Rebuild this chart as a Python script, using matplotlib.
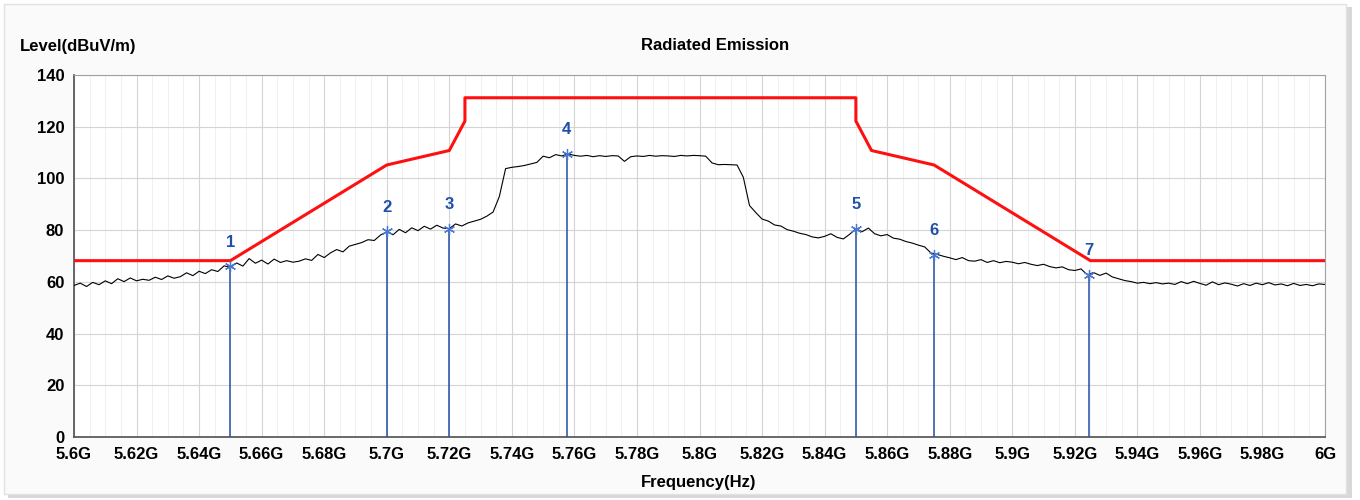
"""Radiated emission scan, 5.6-6 GHz, with limit mask and markers."""
import matplotlib
matplotlib.use("Agg")
import matplotlib.pyplot as plt
from matplotlib.patches import Rectangle
from matplotlib.ticker import MultipleLocator, FuncFormatter

# measured trace, 2 MHz steps from 5.600 GHz to 6.000 GHz (dBuV/m)
f_start, f_step = 5.6, 0.002
level = [
    58.6, 59.5, 58.2, 59.8, 58.9, 60.4, 59.3, 61.2, 60.1, 61.5,
    60.4, 61.0, 60.6, 61.8, 60.9, 62.3, 61.4, 62.0, 63.5, 62.4,
    64.1, 63.2, 64.7, 64.0, 66.2, 65.6, 67.3, 66.1, 69.0, 67.2,
    68.4, 66.9, 68.8, 67.5, 68.2, 67.6, 68.0, 68.9, 68.3, 70.6,
    69.4, 71.2, 72.5, 71.6, 73.8, 74.5, 75.2, 76.3, 76.0, 78.1,
    79.4, 78.2, 80.3, 79.0, 80.9, 79.8, 81.5, 80.4, 81.9, 80.8,
    80.6, 82.4, 81.6, 82.8, 83.5, 84.2, 85.4, 87.0, 93.0, 103.8,
    104.3, 104.6, 105.0, 105.6, 106.2, 108.6, 108.0, 109.2, 108.7, 109.5,
    108.9, 108.6, 108.9, 108.4, 108.8, 108.5, 108.8, 108.7, 106.6, 108.4,
    108.7, 108.5, 108.9, 108.6, 108.8, 108.7, 108.5, 108.9, 108.7, 108.9,
    108.8, 108.6, 106.0, 105.3, 105.4, 105.3, 105.2, 100.5, 89.5, 86.8,
    84.3, 83.5, 82.0, 81.6, 80.2, 79.6, 78.8, 78.3, 77.4, 77.0,
    77.6, 78.6, 77.2, 76.6, 78.4, 80.5, 79.4, 80.8, 78.6, 77.8,
    78.3, 76.9, 76.5, 75.6, 75.0, 74.2, 73.5, 71.2, 70.6, 69.9,
    69.3, 68.6, 69.4, 68.2, 68.0, 68.6, 67.5, 68.2, 67.4, 67.9,
    67.6, 67.0, 67.5, 66.8, 66.3, 66.8, 65.9, 65.4, 65.8, 64.7,
    64.4, 65.0, 62.7, 63.6, 62.5, 63.4, 61.9, 61.2, 60.5, 60.1,
    59.5, 59.8, 59.3, 59.7, 59.2, 59.5, 59.0, 60.1, 59.3, 60.2,
    59.4, 58.7, 60.0, 58.9, 59.6, 59.1, 58.4, 59.3, 58.6, 59.5,
    58.9, 59.7, 58.8, 59.2, 58.5, 59.4, 58.6, 59.0, 58.5, 59.2,
    59.0,
]
freq = [f_start + i * f_step for i in range(len(level))]

# limit mask (GHz, dBuV/m)
limit_f = [5.6, 5.65, 5.7, 5.72, 5.725, 5.725, 5.85, 5.85, 5.855, 5.875, 5.925, 6.0]
limit_l = [68.2, 68.2, 105.2, 110.8, 122.2, 131.2, 131.2, 122.2, 110.8, 105.2, 68.2, 68.2]

# markers
mk_id = ["1", "2", "3", "4", "5", "6", "7"]
mk_f = [5.65, 5.70, 5.72, 5.7575, 5.85, 5.875, 5.9245]
mk_l = [66.0, 79.5, 80.5, 109.5, 80.5, 70.5, 62.6]

FONT = ["Liberation Sans", "DejaVu Sans"]
BLUE = "#1f4fa8"
FS = 12

fig = plt.figure(figsize=(13.6, 5.0), dpi=100)
fig.patch.set_facecolor("white")
# panel with a soft shadow, like the instrument software window
fig.add_artist(Rectangle((8 / 1360, 2 / 500), 1344 / 1360, 491 / 500,
                         transform=fig.transFigure, fc="#d8d8d8", ec="none",
                         zorder=-10))
fig.add_artist(Rectangle((4 / 1360, 6 / 500), 1342 / 1360, 490 / 500,
                         transform=fig.transFigure, fc="#fafafa", ec="#e2e2e2",
                         lw=1, zorder=-9))

ax = fig.add_axes([74 / 1360, 63 / 500, 1251 / 1360, 362 / 500])
ax.set_zorder(5)
ax.set_facecolor("white")

ax.plot(freq, level, color="black", lw=0.8, zorder=3)
ax.plot(limit_f, limit_l, color="#ff1010", lw=2.2, zorder=4)

for n, f, l in zip(mk_id, mk_f, mk_l):
    ax.plot([f, f], [0, l], color=BLUE, lw=1.1, zorder=2)
    ax.plot(f, l, marker=(6, 2, 0), ms=8, mec="#4a78d0", mew=0.9, zorder=5)
    ax.text(f, l + 6.5, n, ha="center", va="bottom", color=BLUE, fontsize=FS,
            fontweight="bold", family=FONT, zorder=6)

ax.set_xlim(5.6, 6.0)
ax.set_ylim(0, 140)
ax.xaxis.set_major_locator(MultipleLocator(0.02))
ax.xaxis.set_minor_locator(MultipleLocator(0.005))
ax.yaxis.set_major_locator(MultipleLocator(20))
ax.xaxis.set_major_formatter(FuncFormatter(lambda v, p: f"{v:.2f}".rstrip("0").rstrip(".") + "G"))
ax.grid(which="major", color="#d4d4d4", lw=0.8)
ax.grid(which="minor", axis="x", color="#f0f0f0", lw=0.7)
ax.set_axisbelow(True)
ax.tick_params(which="both", length=0, pad=7)
for lab in ax.get_xticklabels() + ax.get_yticklabels():
    lab.set_fontweight("bold")
    lab.set_fontsize(FS)
    lab.set_family(FONT)
for s in ("top", "right"):
    ax.spines[s].set_color("#a0a0a0")
for s in ("left", "bottom"):
    ax.spines[s].set_color("#505050")
    ax.spines[s].set_linewidth(1.2)

fig.text(20 / 1360, 1 - 46 / 500, "Level(dBuV/m)", ha="left", va="center",
         fontsize=FS, fontweight="bold", family=FONT)
fig.text(715 / 1360, 1 - 46 / 500, "Radiated Emission", ha="center", va="center",
         fontsize=FS, fontweight="bold", family=FONT)
fig.text(699 / 1360, 1 - 483 / 500, "Frequency(Hz)", ha="center", va="center",
         fontsize=FS, fontweight="bold", family=FONT)

fig.savefig("out.png", dpi=100, facecolor=fig.get_facecolor())
